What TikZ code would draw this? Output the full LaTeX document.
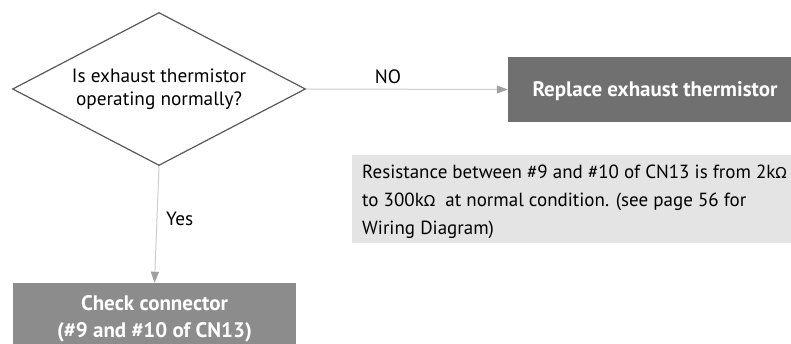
\documentclass[tikz,border=0pt]{standalone}
\usepackage{fontspec}
\setmainfont{PT Sans}
\newfontfamily\ohmfont{DejaVu Sans}
\usetikzlibrary{shapes.geometric,arrows.meta}
\newcommand{\ohm}{{\ohmfont\fontsize{15}{18}\selectfont Ω}}
\definecolor{darkbox}{HTML}{707070}
\definecolor{midbox}{HTML}{8C8C8C}
\definecolor{notebox}{HTML}{E4E4E4}
\definecolor{flowline}{HTML}{CCCCCC}
\definecolor{flowtip}{HTML}{A0A0A0}
\tikzset{
  x=1pt, y=1pt,
  decision/.style={shape=diamond, draw=black!65, line width=1.2pt, fill=white,
    minimum width=293pt, minimum height=153pt, inner sep=0pt, aspect=1.9,
    align=center, font=\fontsize{19.3}{23}\selectfont},
  actionbox/.style={fill=#1, draw=none, inner sep=0pt},
  boxtext/.style={text=white, align=center,
    font=\bfseries\fontsize{21}{27}\selectfont, inner sep=0pt},
  notepanel/.style={draw=none, align=left, anchor=north west,
    font=\fontsize{19}{28}\selectfont, inner sep=0pt},
  flow/.style={draw=flowline, line width=1pt,
    -{Triangle[length=11pt, width=8pt, color=flowtip]}},
  flowlabel/.style={font=\fontsize{19.3}{23}\selectfont, inner sep=0pt}
}
\begin{document}
\begin{tikzpicture}
\useasboundingbox (0,0) rectangle (791,343);

% decision diamond
\node[decision] (q) at (159,254) {Is exhaust thermistor\\operating normally?};

% outcome boxes (they run past the page edge, so their labels sit off-centre)
\node[actionbox=darkbox, minimum width=294pt, minimum height=65pt] (replace) at (655,253.5) {};
\node[boxtext] (replacetext) at (655,251.5) {Replace exhaust thermistor};
\node[actionbox=midbox, minimum width=283pt, minimum height=67pt] (check) at (154.5,26.5) {};
\node[boxtext] (checktext) at (154.5,24.5) {Check connector\\(\#9 and \#10 of CN13)};

% explanatory note
\fill[notebox] (352,188) rectangle (801,100);
\node[notepanel] (note) at (362,178)
  {Resistance between \#9 and \#10 of CN13 is from 2k\ohm\\
   to 300k\ohm\ \ at normal condition. (see page 56 for\\
   Wiring Diagram)};

% connectors
\draw[flow] (q.east) -- (replace.west);
\draw[flow] (q.south) -- (check.north);

% branch labels
\node[flowlabel] (nolabel) at (388,266) {NO};
\node[flowlabel, anchor=west] (yeslabel) at (166,124) {Yes};
\end{tikzpicture}
\end{document}
